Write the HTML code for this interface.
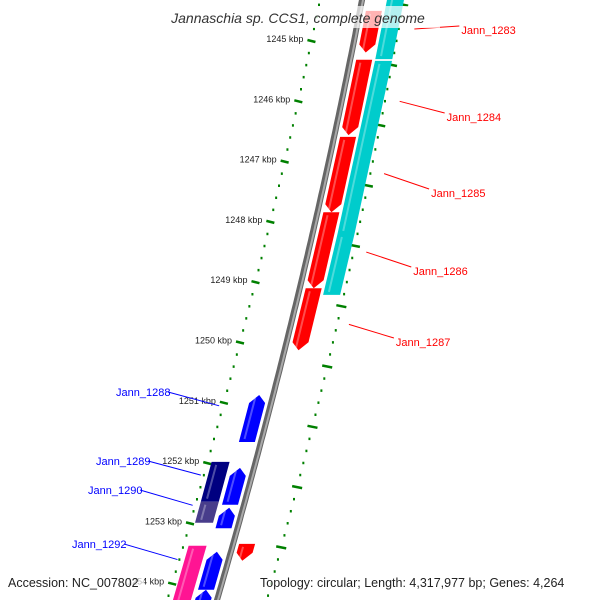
<!DOCTYPE html>
<html><head><meta charset="utf-8"><style>
html,body{margin:0;padding:0;background:#fff;overflow:hidden;width:600px;height:600px;}
svg{display:block;font-family:"Liberation Sans",sans-serif;}
</style></head><body>
<svg id="map" width="600" height="600" viewBox="0 0 600 600" xmlns="http://www.w3.org/2000/svg">
<g id="ticks"></g>
<g id="genes"></g>
<g id="labels"></g>
<rect x="160" y="6" width="280" height="22" fill="#fff" opacity="0.7"/>
<text x="298" y="23" text-anchor="middle" font-size="14" font-style="italic" fill="#333">Jannaschia sp. CCS1, complete genome</text>
<rect x="4" y="573" width="140" height="20" fill="#fff" opacity="0.7"/>
<text x="8" y="587" font-size="12.5" fill="#222">Accession: NC_007802</text>
<rect x="256" y="573" width="340" height="20" fill="#fff" opacity="0.7"/>
<text x="260" y="587" font-size="12.5" fill="#222">Topology: circular; Length: 4,317,977 bp; Genes: 4,264</text>
</svg>
<script>
const kbpTicks = [1244, 1245, 1246, 1247, 1248, 1249, 1250, 1251, 1252, 1253, 1254];
const redGenes = [[1244.5,1245.19],[1245.31,1246.56],[1246.59,1247.84],[1247.84,1249.10],[1249.10,1250.13],[1253.34,1253.62]];
const cyanGenes = [[1244.2,1245.30],[1245.33,1248.20],[1248.20,1249.21]];
const blueGenes = [[1250.87,1251.65],[1252.08,1252.69],[1252.74,1253.08],[1253.47,1254.10],[1254.10,1254.6]];
const lane2Genes = [[1251.98,1252.64],[1252.64,1252.99],[1253.37,1254.6]];
const lane2Colors = ['#000080','#483d8b','#ff1493'];
const redLabels = [['Jann_1283',1244.8],['Jann_1284',1246.0],['Jann_1285',1247.2],['Jann_1286',1248.5],['Jann_1287',1249.7]];
const blueLabels = [['Jann_1288',1251.0],['Jann_1289',1252.15],['Jann_1290',1252.65],['Jann_1292',1253.55]];

const NS='http://www.w3.org/2000/svg';
function Y(k){return 41+(k-1245)*60.3;}
function bx(y){return 362-0.1926*y-8.17e-5*y*y;}
function dd(y){return 42+0.013*y;}
function mk(tag,attrs,parent){const e=document.createElementNS(NS,tag);for(const k in attrs)e.setAttribute(k,attrs[k]);parent.appendChild(e);return e;}
const tk=document.getElementById('ticks'),gn=document.getElementById('genes'),lb=document.getElementById('labels');

let d='';for(let y=-10;y<=610;y+=5){d+=(y==-10?'M':'L')+bx(y).toFixed(1)+','+y;}
const bb=mk('path',{d:d,stroke:'#666',"stroke-width":6,fill:'none'},tk);


const bb2=mk('path',{d:d,stroke:'#aaa',"stroke-width":2,fill:'none',transform:'translate(1,0)'},tk);



for(let k=1244;k<=1254.6;k+=0.2){
  const kk=Math.round(k*10)/10;const major=Math.abs(kk-Math.round(kk))<0.01;
  const y=Y(kk);const xl=bx(y)-dd(y);
  const t=mk('line',{x1:xl-(major?4:1),y1:y-(major?1:0),x2:xl+(major?4:1),y2:y+(major?1:0),stroke:'#008000',"stroke-width":2.5},tk);
  
  
  const y2=y+24;const xr=bx(y2)+dd(y2);
  const t2=mk('line',{x1:xr-(major?5:1),y1:y2-(major?1:0),x2:xr+(major?5:1),y2:y2+(major?1:0),stroke:'#008000',"stroke-width":2.5},tk);
  
  
}
kbpTicks.forEach(k=>{
  const y=Y(k);const x=bx(y)-dd(y)-8;
  const r=mk('rect',{x:x-42,y:y-8,width:42,height:11,fill:'#fff',opacity:0.6},tk);
  
  
  const t=mk('text',{x:x,y:y+1,"text-anchor":'end',"font-size":9,fill:'#222'},tk);
  t.textContent=k+' kbp';
  
  
});

function gene(k1,k2,o1,o2,color,dir,name){
  const y1=Y(k1),y2=Y(k2),h=8;let pts;
  if(dir>0){
    const ya=Math.max(y1,y2-h);
    pts=[[bx(y1)+o1,y1],[bx(y1)+o2,y1],[bx(ya)+o2,ya],[bx(y2)+(o1+o2)/2,y2],[bx(ya)+o1,ya]];
  }else if(dir<0){
    const ya=Math.min(y2,y1+h);
    pts=[[bx(y1)+(o1+o2)/2,y1],[bx(ya)+o2,ya],[bx(y2)+o2,y2],[bx(y2)+o1,y2],[bx(ya)+o1,ya]];
  }else{
    pts=[[bx(y1)+o1,y1],[bx(y1)+o2,y1],[bx(y2)+o2,y2],[bx(y2)+o1,y2]];
  }
  const p=mk('polygon',{points:pts.map(q=>q[0].toFixed(1)+','+q[1].toFixed(1)).join(' '),fill:color},gn);
  
  
  const s=mk('line',{x1:bx(y1+3)+o1+(o2-o1)*0.3,y1:y1+3,x2:bx(y2-3)+o1+(o2-o1)*0.3,y2:y2-3,stroke:'#fff',"stroke-opacity":0.3,"stroke-width":2},gn);
  
  
}
cyanGenes.forEach(g=>gene(g[0],g[1],25,42,'#00cccc',0,'cyan-gene'));
redGenes.forEach(g=>gene(g[0],g[1],6,22,'#ff0000',1,'red-gene'));
blueGenes.forEach(g=>gene(g[0],g[1],-22,-6,'#0000ff',-1,'blue-gene'));
lane2Genes.forEach((g,i)=>gene(g[0],g[1],-44,-26,lane2Colors[i],0,'lane2-gene'));

const redTextY=[30,117,193,271,342];
redLabels.forEach((l,i)=>{
  const y=Y(l[1]);const x=bx(y)+58;const ty=redTextY[i];
  const ln=mk('line',{x1:x,y1:y,x2:x+45,y2:ty-4,stroke:'#ff0000',"stroke-width":1},lb);
  
  
  const t=mk('text',{x:x+47,y:ty+4,"font-size":11,fill:'#ff0000'},lb);t.textContent=l[0];
  
  
});
const blueTextX=[116,96,88,72];
const blueTextY=[396,465,494,548];
blueLabels.forEach((l,i)=>{
  const y=Y(l[1]);const x=bx(y)-52;const tx=blueTextX[i],ty=blueTextY[i];
  const ln=mk('line',{x1:tx+52,y1:ty-4,x2:x,y2:y+3,stroke:'#0000ff',"stroke-width":1},lb);
  
  
  const t=mk('text',{x:tx,y:ty,"font-size":11,fill:'#0000ff'},lb);t.textContent=l[0];
  
  
});
</script>
</body></html>
